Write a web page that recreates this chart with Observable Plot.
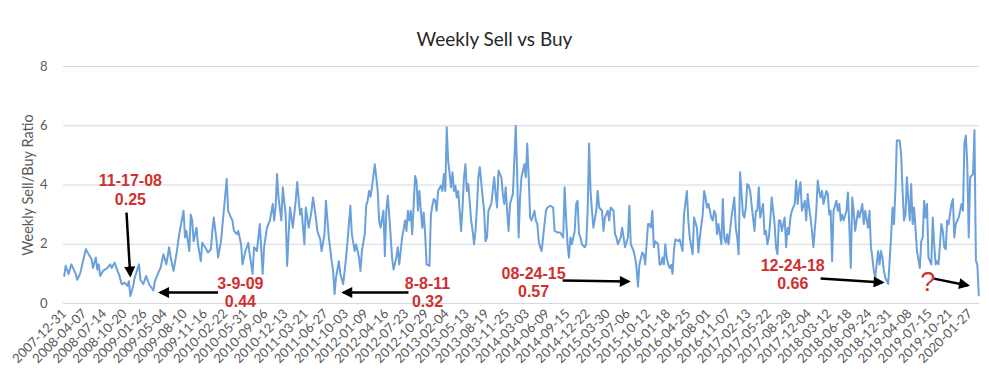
<!DOCTYPE html>
<html><head><meta charset="utf-8">
<script src="https://cdn.jsdelivr.net/npm/d3@7"></script>
<script src="https://cdn.jsdelivr.net/npm/@observablehq/plot@0.6"></script>
<style>
body{margin:0;background:#fff;font-family:Lato,sans-serif;}
#title{height:56px;box-sizing:border-box;padding-top:28px;text-align:center;font-size:19px;line-height:22px;color:#262626;}
#chart svg{display:block}
</style></head><body>
<div id="title">Weekly Sell vs Buy</div>
<div id="chart"></div>
<script>
// week index since 2007-12-31 and the weekly sell/buy ratio
const weeks = [0,1,3,5,8,9,11,12,15,17,19,20,22,23,24,25,27,30,32,33,35,37,38,40,42,44,45,46,48,49,52,53,55,57,59,62,63,66,67,69,71,73,74,76,78,80,81,83,84,85,87,88,89,90,92,93,95,96,98,100,102,103,104,106,107,109,111,113,114,116,117,118,120,121,123,124,126,128,129,131,132,134,136,138,139,141,143,145,146,147,148,149,151,152,154,155,157,159,161,162,164,165,167,168,170,172,173,175,176,178,179,181,182,184,186,187,188,189,191,192,194,196,197,199,200,202,203,205,206,207,209,210,211,212,213,214,
216,217,218,219,220,222,223,224,225,226,228,229,231,232,233,235,236,237,238,239,240,241,242,244,245,246,247,248,249,250,251,252,254,255,256,257,258,259,260,262,263,264,265,266,267,269,270,271,272,273,274,276,277,278,279,280,281,283,284,285,286,287,288,289,291,292,293,294,295,297,298,299,300,301,302,304,305,306,307,308,309,310,312,313,314,315,316,317,318,320,321,322,323,324,325,327,328,329,330,331,332,334,335,336,338,340,341,343,345,347,348,349,350,351,352,353,355,356,357,358,359,360,362,363,364,365,366,367,368,370,371,372,374,375,376,378,379,380,382,383,384,385,387,388,389,390,392,393,394,396,397,398,399,400,402,403,404,406,407,408,409,410,411,413,414,415,416,417,418,419,420,421,
422,423,424,425,427,428,430,431,433,434,435,437,438,440,441,442,444,445,446,447,448,450,451,452,453,454,455,457,458,459,460,461,462,464,465,466,467,468,469,470,472,473,474,475,476,477,479,480,481,482,483,484,486,487,488,489,490,491,492,494,495,496,497,498,499,501,502,503,504,505,506,508,509,510,511,512,513,515,516,517,518,519,520,521,523,524,525,526,527,528,530,531,532,533,534,535,537,538,539,540,541,542,544,545,546,547,548,549,550,552,553,554,555,556,557,559,560,561,562,563,564,566,567,568,569,570,571,573,574,575,576,577,578,579,581,582,583,584,585,586,588,589,590,591,592,593,595,596,597,598,599,600,601,603,604,605,606,607,608,610,611,612,613,614,615,617,618,619,620,621,622,624,625,626,627,628,629,630,632,633,634,635,636];
const ratios = [0.93,1.27,1.0,1.32,1.0,0.8,1.0,1.2,1.83,1.66,1.5,1.2,1.55,1.15,1.32,0.93,1.1,1.2,1.32,1.2,1.38,1.1,1.0,0.65,0.7,0.6,0.75,0.25,0.6,0.87,1.32,0.8,0.65,0.93,0.65,0.44,0.75,1.1,1.2,1.66,1.32,1.9,1.55,1.1,1.66,2.34,2.62,3.13,2.23,2.45,1.77,3.0,2.8,2.1,2.56,2.0,1.43,2.05,1.9,1.72,1.83,2.45,2.9,2.1,1.55,2.1,3.13,4.2,3.13,2.9,2.8,2.45,2.34,2.45,2.0,1.32,1.77,2.05,1.66,1.0,1.9,1.77,2.68,1.0,1.9,2.56,2.8,3.36,2.8,3.24,4.37,3.58,2.8,3.92,3.0,1.27,3.24,2.56,3.47,4.1,3.0,3.2,2.0,3.24,2.56,3.13,3.58,2.9,2.45,2.17,1.77,2.34,3.47,2.23,1.43,1.1,0.32,0.87,1.43,1.0,0.65,1.55,2.1,3.3,2.34,1.77,2.0,1.55,1.1,1.77,2.34,3.3,3.47,3.8,3.6,3.92,
4.7,4.26,3.8,2.8,2.56,3.13,1.6,3.13,3.64,3.0,1.55,1.15,1.55,1.9,1.32,2.23,2.5,2.8,2.45,3.13,2.8,3.13,2.34,4.3,4.15,3.13,3.8,3.13,2.56,3.07,2.34,1.32,1.27,3.0,3.3,3.53,3.47,3.13,3.8,3.98,3.8,4.37,3.8,5.95,4.82,3.92,4.43,3.8,3.98,3.58,3.8,2.45,3.24,4.26,4.7,3.8,4.03,2.8,2.45,2.0,2.45,3.24,4.26,4.6,3.58,3.13,2.1,2.23,3.13,3.36,3.8,4.26,3.7,3.24,4.49,4.26,3.7,3.36,3.92,3.13,2.45,3.36,3.7,4.82,6.0,4.37,2.23,3.58,4.26,4.7,4.26,5.4,4.26,2.9,2.8,3.13,2.8,2.68,2.1,1.9,1.77,2.68,3.13,3.24,3.3,3.24,2.45,2.4,2.4,2.23,3.92,2.9,2.0,1.55,2.23,2.0,2.45,3.36,3.47,2.34,2.23,2.0,1.9,2.0,3.13,5.4,3.8,3.13,2.56,3.13,3.8,3.24,3.13,2.45,2.9,3.13,2.8,3.24,3.13,2.34,2.23,2.0,2.23,2.56,2.23,1.9,2.23,3.3,2.0,1.77,1.55,1.2,0.57,1.32,1.72,1.66,1.32,2.68,2.68,2.56,3.13,1.9,2.1,2.0,1.32,1.32,1.55,1.32,2.0,1.55,1.32,1.2,
1.3,1.0,1.77,2.17,2.1,2.17,1.77,3.0,3.8,2.8,2.23,1.66,2.9,2.56,1.72,2.23,3.0,3.8,3.58,3.24,3.36,2.9,2.8,3.13,3.0,2.34,2.68,2.0,3.53,2.23,2.05,2.34,2.0,2.9,3.24,3.58,2.56,2.23,1.66,4.43,3.0,2.9,3.24,4.03,3.98,3.8,2.9,2.45,3.13,3.13,3.92,2.9,3.36,2.34,2.45,2.0,2.23,2.8,3.58,2.68,1.9,1.66,2.8,2.8,2.45,2.9,1.9,2.56,2.34,2.9,3.13,3.36,4.15,3.36,3.8,4.1,3.13,3.47,2.8,3.7,3.24,2.9,2.45,1.9,3.13,4.15,3.8,3.58,3.8,3.36,3.8,3.7,3.0,3.13,1.43,3.13,3.47,3.13,3.36,2.8,3.0,2.8,3.13,3.75,2.56,1.2,3.58,3.13,2.45,3.13,2.9,3.13,3.36,2.68,3.13,2.56,3.13,1.9,1.55,1.1,0.87,1.77,1.32,1.77,1.55,1.1,0.87,0.66,1.43,2.23,3.24,2.68,3.8,5.5,5.5,5.05,3.8,2.8,3.0,4.26,2.8,4.03,2.68,3.24,2.56,1.77,1.2,2.1,2.23,3.47,2.9,3.36,1.55,1.32,2.9,2.0,1.32,1.43,1.32,2.68,2.45,1.9,1.83,2.8,2.68,3.36,3.53,2.23,2.68,2.8,2.9,3.36,3.13,5.4,5.67,4.7,2.23,4.26,4.37,5.85,1.45,1.3,0.28];

// category tick labels, one every 14 weeks
const tickLabels = ["2007-12-31","2008-04-07","2008-07-14","2008-10-20","2009-01-26","2009-05-04","2009-08-10","2009-11-16","2010-02-22","2010-05-31","2010-09-06","2010-12-13","2011-03-21","2011-06-27","2011-10-03","2012-01-09","2012-04-16","2012-07-23","2012-10-29","2013-02-04","2013-05-13","2013-08-19","2013-11-25","2014-03-03","2014-06-09","2014-09-15","2014-12-22","2015-03-30","2015-07-06","2015-10-12","2016-01-18","2016-04-25","2016-08-01","2016-11-07","2017-02-13","2017-05-22","2017-08-28","2017-12-04","2018-03-12","2018-06-18","2018-09-24","2018-12-31","2019-04-08","2019-07-15","2019-10-21","2020-01-27"];
const tickStep = 14;
const yTicks = [0,2,4,6,8];

// annotations (in data units: week index, ratio)
const annoText = ["11-17-08\n0.25","3-9-09\n0.44","8-8-11\n0.32","08-24-15\n0.57","12-24-18\n0.66"];
const annoWeek = [46,122.5,252.6,326.4,506.6];
const annoRatio = [3.85,0.39,0.38,0.73,1.0];
const qText = ["?"];
const qWeek = [600.6];
const qRatio = [0.7];
const arrowFromWeek = [43.3,107,239.4,346.6,526,604.7];
const arrowFromRatio = [3.07,0.37,0.37,0.78,0.84,0.84];
const arrowToWeek = [45.9,66.8,194.2,392.5,569,628.4];
const arrowToRatio = [0.95,0.37,0.37,0.74,0.71,0.61];

const data = weeks.map((w,i)=>({week:w, ratio:ratios[i]}));
const annos = annoText.map((t,i)=>({text:t, week:annoWeek[i], ratio:annoRatio[i]}));
const qs = qText.map((t,i)=>({text:t, week:qWeek[i], ratio:qRatio[i]}));
const arrows = arrowFromWeek.map((w,i)=>({x1:w, y1:arrowFromRatio[i], x2:arrowToWeek[i], y2:arrowToRatio[i]}));
const tickWeeks = tickLabels.map((_,i)=>i*tickStep);

function headMarker(color){
  const m = d3.create("svg:marker")
    .attr("viewBox","0 -5 10 10").attr("refX",8).attr("refY",0)
    .attr("markerWidth",13).attr("markerHeight",11)
    .attr("markerUnits","userSpaceOnUse").attr("orient","auto");
  m.append("path").attr("d","M0,-5L10,0L0,5Z").attr("fill",color).attr("stroke","none");
  return m.node();
}

const chart = Plot.plot({
  width:989, height:322,
  marginTop:10, marginBottom:75, marginLeft:63, marginRight:10,
  style:{fontFamily:"Lato, sans-serif", fontSize:"13px", color:"#595959", background:"#fff"},
  x:{type:"linear", domain:[-0.5,636.5]},
  y:{domain:[0,8]},
  marks:[
    Plot.gridY(yTicks,{stroke:"#d5d8e0", strokeOpacity:1, strokeWidth:1}),
    Plot.axisY(yTicks,{tickSize:0, tickPadding:16, label:null, fontSize:13}),
    Plot.axisY({ticks:[], tickSize:0, label:"Weekly Sell/Buy Ratio", labelAnchor:"center", labelOffset:41, labelArrow:"none", fontSize:14.5}),
    Plot.axisX(tickWeeks,{tickSize:0, tickPadding:8, tickRotate:-45, tickFormat:d=>tickLabels[Math.round(d/tickStep)], label:null, fontSize:13}),
    Plot.lineY(data,{x:"week", y:"ratio", stroke:"#6aa0dc", strokeWidth:2}),
    Plot.link(arrows,{x1:"x1", y1:"y1", x2:"x2", y2:"y2", stroke:"#000", strokeWidth:2.5, markerEnd:headMarker}),
    Plot.text(annos,{x:"week", y:"ratio", text:"text", fill:"#d0302f", fontWeight:"bold", fontSize:16, lineHeight:1.15, fontFamily:"Liberation Sans, Arial, sans-serif"}),
    Plot.text(qs,{x:"week", y:"ratio", text:"text", fill:"#d0302f", fontSize:27, fontFamily:"Liberation Sans, Arial, sans-serif"})
  ]
});
document.getElementById("chart").appendChild(chart);
</script>
</body></html>
